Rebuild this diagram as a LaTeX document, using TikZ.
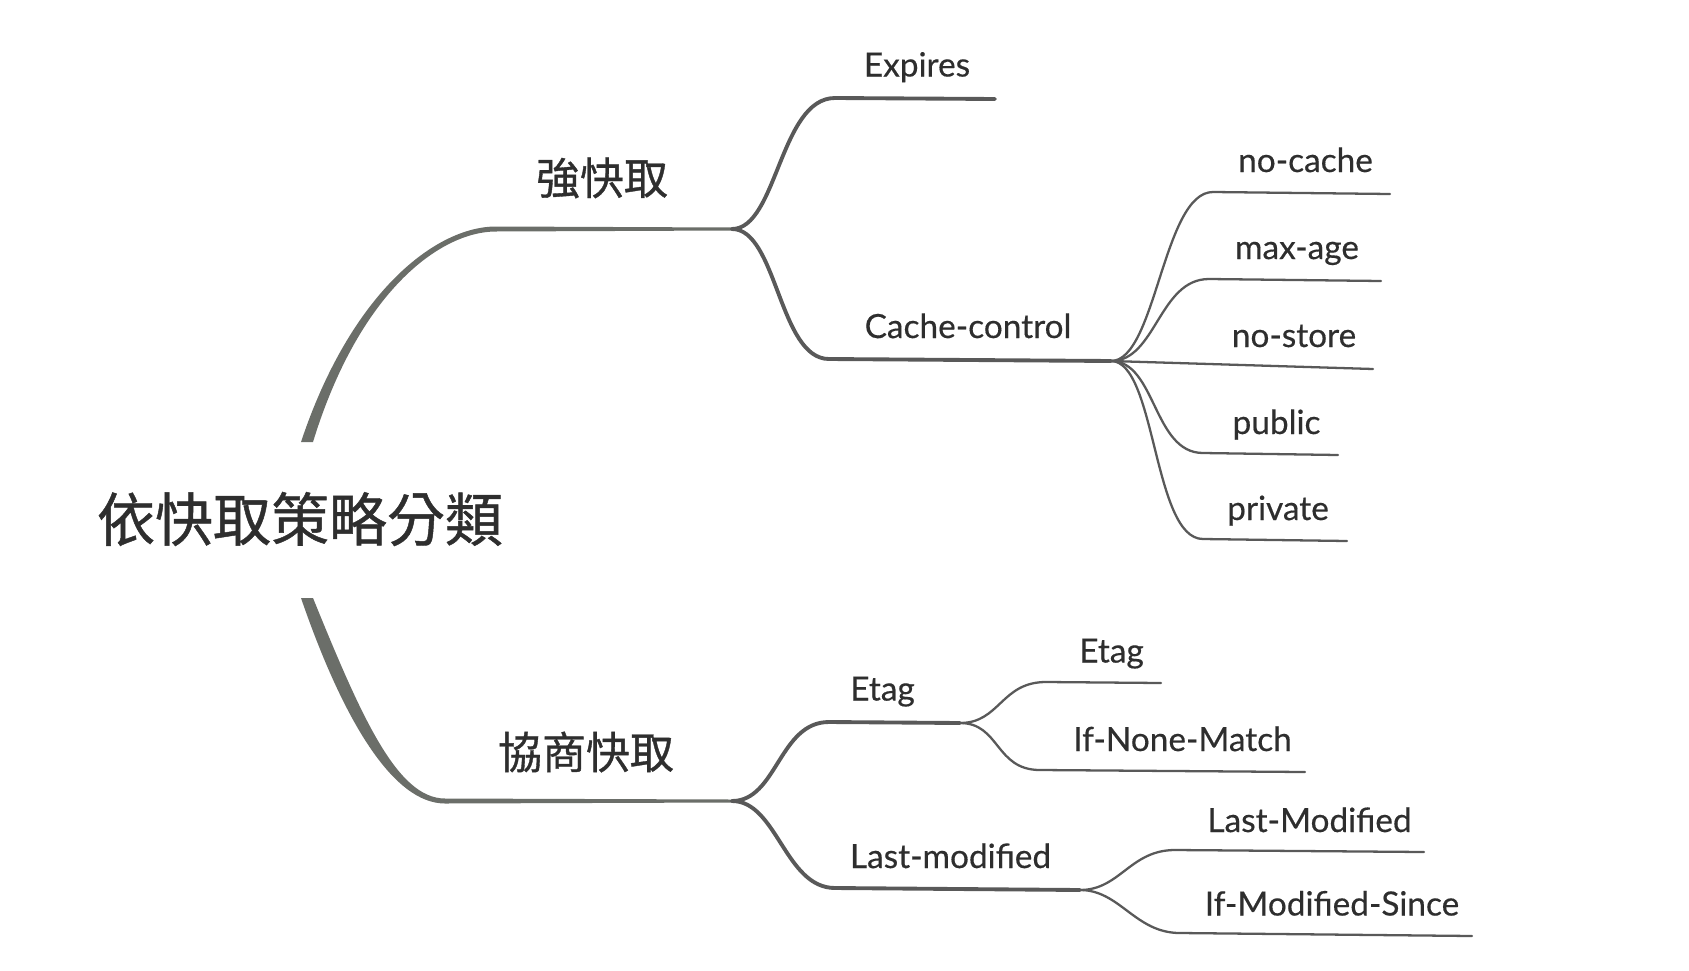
\documentclass[tikz,border=0pt]{standalone}
\usepackage{fontspec}
\setmainfont{Lato}[FakeBold=0.4]
\newfontfamily\cjk{Noto Sans CJK TC}[FakeBold=0.8]
\usetikzlibrary{calc}
\definecolor{ink}{HTML}{2E2E2E}
\definecolor{trunkgray}{HTML}{6B6E69}
\definecolor{twiggray}{HTML}{595959}
\tikzset{
  rootlabel/.style={font=\cjk\fontsize{33}{38}\selectfont,text=ink,inner sep=0pt},
  mainlabel/.style={font=\cjk\fontsize{25}{30}\selectfont,text=ink,inner sep=0pt},
  leaflabel/.style={font=\fontsize{19}{23}\selectfont,text=ink,inner sep=0pt,anchor=base},
  trunkfill/.style={fill=trunkgray},
  branch/.style={draw=twiggray,line width=2.2pt,line cap=round},
  twig/.style={draw=twiggray,line width=1.3pt,line cap=round},
}

\begin{document}
\begin{tikzpicture}[x=0.02cm,y=-0.02cm]
\useasboundingbox (0,0) rectangle (1689,970);

% root and the two main topics
\node[rootlabel] (root) at (300,519) {依快取策略分類};
\coordinate (root-up) at (307,442);
\coordinate (root-dn) at (307,598);
\coordinate (strong-a) at (496,229);
\coordinate (strong-b) at (732,229);
\coordinate (nego-a) at (445,801);
\coordinate (nego-b) at (732,801);
\node[mainlabel] (strong) at (602,178) {強快取};
\node[mainlabel] (nego) at (586,752) {協商快取};

% strong cache
\coordinate (expires-a) at (835,98);
\coordinate (expires-b) at (995,99);
\coordinate (cc-a) at (829,359);
\coordinate (cc-b) at (1111,361);
\coordinate (nocache-a) at (1213,192);
\coordinate (nocache-b) at (1390,194);
\coordinate (maxage-a) at (1209,279);
\coordinate (maxage-b) at (1381,281);
\coordinate (nostore-b) at (1373,369);
\coordinate (public-a) at (1203,453);
\coordinate (public-b) at (1338,455);
\coordinate (private-a) at (1203,539);
\coordinate (private-b) at (1347,541);

% negotiated cache
\coordinate (etag-a) at (829,722);
\coordinate (etag-b) at (960,723);
\coordinate (lastmod-a) at (835,888);
\coordinate (lastmod-b) at (1080,890);
\coordinate (etagval-a) at (1046,682);
\coordinate (etagval-b) at (1161,683);
\coordinate (inm-a) at (1040,770);
\coordinate (inm-b) at (1305,772);
\coordinate (lmval-a) at (1175,850);
\coordinate (lmval-b) at (1424,852);
\coordinate (ims-a) at (1180,933);
\coordinate (ims-b) at (1472,936);

\node[leaflabel] (expires) at ($(expires-a)!0.5!(expires-b)+(2,-22)$) {Expires};
\node[leaflabel] (cc) at ($(cc-a)!0.5!(cc-b)+(-2,-22)$) {Cache-control};
\node[leaflabel] (nocache) at ($(nocache-a)!0.5!(nocache-b)+(4,-21)$) {no-cache};
\node[leaflabel] (maxage) at ($(maxage-a)!0.5!(maxage-b)+(2,-21)$) {max-age};
\node[leaflabel] (nostore) at (1294,347) {no-store};
\node[leaflabel] (public) at ($(public-a)!0.5!(public-b)+(6,-20)$) {public};
\node[leaflabel] (private) at ($(private-a)!0.5!(private-b)+(3,-20)$) {private};
\node[leaflabel] (etag) at ($(etag-a)!0.5!(etag-b)+(-12,-22)$) {Etag};
\node[leaflabel] (lastmod) at ($(lastmod-a)!0.5!(lastmod-b)+(-7,-21)$) {Last-modified};
\node[leaflabel] (etagval) at ($(etagval-a)!0.5!(etagval-b)+(8,-20)$) {Etag};
\node[leaflabel] (inm) at ($(inm-a)!0.5!(inm-b)+(10,-20)$) {If-None-Match};
\node[leaflabel] (lmval) at ($(lmval-a)!0.5!(lmval-b)+(10,-19)$) {Last-Modified};
\node[leaflabel] (ims) at ($(ims-a)!0.5!(ims-b)+(6,-19)$) {If-Modified-Since};

% trunks
\fill[trunkfill] ($(root-up)+(-6,0)$) .. controls +(50,-150) and +(-60,0) .. ($(strong-a)+(0,-2.5)$)
  -- ($(strong-b)+(0,-1.5)$) -- ($(strong-b)+(0,1.5)$) -- ($(strong-a)+(0,2.5)$)
  .. controls +(-56,0) and +(46,-150) .. ($(root-up)+(6,0)$) -- cycle;
\fill[trunkfill] ($(root-dn)+(-6,0)$) .. controls +(42,122) and +(-52,0) .. ($(nego-a)+(0,2.5)$)
  -- ($(nego-b)+(0,1.5)$) -- ($(nego-b)+(0,-1.5)$) -- ($(nego-a)+(0,-2.5)$)
  .. controls +(-48,0) and +(48,118) .. ($(root-dn)+(6,0)$) -- cycle;

% branches
\draw[branch] (strong-b) .. controls +(45,0) and +(-55,0) .. (expires-a) -- (expires-b);
\draw[branch] (strong-b) .. controls +(45,0) and +(-50,0) .. (cc-a) -- (cc-b);
\draw[branch] (nego-b) .. controls +(45,0) and +(-50,0) .. (etag-a) -- (etag-b);
\draw[branch] (nego-b) .. controls +(45,0) and +(-50,0) .. (lastmod-a) -- (lastmod-b);

% leaves
\draw[twig] (cc-b) .. controls +(45,0) and +(-50,0) .. (nocache-a) -- (nocache-b);
\draw[twig] (cc-b) .. controls +(45,0) and +(-50,0) .. (maxage-a) -- (maxage-b);
\draw[twig] (cc-b) -- (nostore-b);
\draw[twig] (cc-b) .. controls +(45,0) and +(-50,0) .. (public-a) -- (public-b);
\draw[twig] (cc-b) .. controls +(45,0) and +(-50,0) .. (private-a) -- (private-b);
\draw[twig] (etag-b) .. controls +(40,0) and +(-45,0) .. (etagval-a) -- (etagval-b);
\draw[twig] (etag-b) .. controls +(40,0) and +(-45,0) .. (inm-a) -- (inm-b);
\draw[twig] (lastmod-b) .. controls +(40,0) and +(-45,0) .. (lmval-a) -- (lmval-b);
\draw[twig] (lastmod-b) .. controls +(40,0) and +(-45,0) .. (ims-a) -- (ims-b);

\end{tikzpicture}
\end{document}
